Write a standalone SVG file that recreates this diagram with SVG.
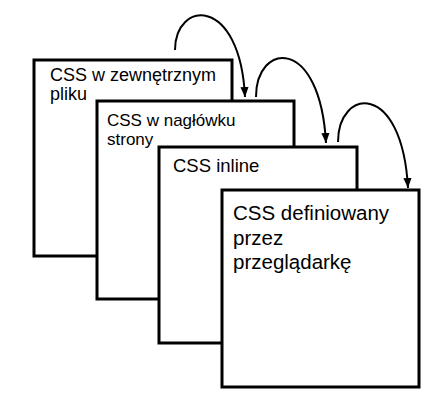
<svg xmlns="http://www.w3.org/2000/svg" width="438" height="409" viewBox="0 0 438 409">
<style>
.box{fill:#fff;stroke:#000;stroke-width:3}
.t{font-family:"Liberation Sans",Arial,sans-serif;fill:#000}
.arc{fill:none;stroke:#000;stroke-width:2}
</style>
<defs>
<marker id="ah" markerUnits="userSpaceOnUse" markerWidth="10" markerHeight="12" refX="11" refY="4.5" orient="auto" viewBox="0 0 11 9">
<path d="M0,0 L11,4.5 L0,9 z" fill="#000"/>
</marker>
</defs>
<rect width="438" height="409" fill="#fff"/>
<g id="node1">
<rect class="box" x="34" y="60" width="198" height="196"/>
<text class="t" font-size="18" x="50" y="81">CSS w zewnętrznym</text>
<text class="t" font-size="18" x="50" y="100">pliku</text>
</g>
<g id="node2">
<rect class="box" x="97" y="101" width="197" height="198"/>
<text class="t" font-size="17" x="107" y="126">CSS w nagłówku</text>
<text class="t" font-size="17" x="107" y="145">strony</text>
</g>
<g id="node3">
<rect class="box" x="159" y="147" width="198" height="196"/>
<text class="t" font-size="18.5" x="173" y="172">CSS inline</text>
</g>
<g id="node4">
<rect class="box" x="222" y="190" width="197" height="197"/>
<text class="t" font-size="20.5" x="233" y="220">CSS definiowany</text>
<text class="t" font-size="20.5" x="233" y="245">przez</text>
<text class="t" font-size="20.5" x="233" y="269">przeglądarkę</text>
</g>
<g id="connectors">
<path class="arc" d="M175,50 C175,0 240,-5 245,97" marker-end="url(#ah)"/>
<path class="arc" d="M256,97 C256,42 320,35 326,143" marker-end="url(#ah)"/>
<path class="arc" d="M338,142 C338,88 402,80 408,188" marker-end="url(#ah)"/>
</g>
</svg>
